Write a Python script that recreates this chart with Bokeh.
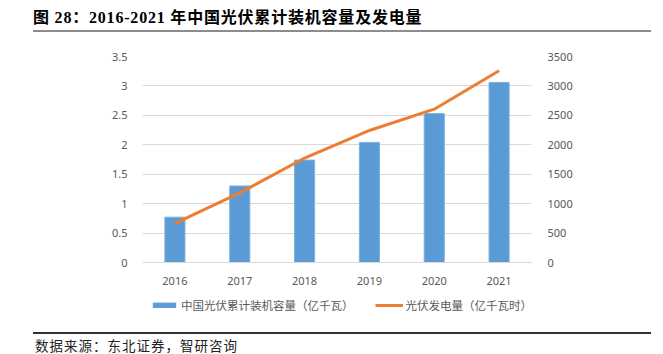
from bokeh.plotting import figure
from bokeh.layouts import column
from bokeh.models import (Range1d, FactorRange, LinearAxis, NumeralTickFormatter,
                          FixedTicker, Legend, LegendItem, Div)
from bokeh.embed import file_html
from bokeh.resources import INLINE

# ---- data ----
years = ["2016", "2017", "2018", "2019", "2020", "2021"]
capacity = [0.77, 1.30, 1.74, 2.04, 2.53, 3.06]        # 亿千瓦
generation = [665, 1182, 1775, 2243, 2605, 3259]       # 亿千瓦时
left_ticks = [0, 0.5, 1, 1.5, 2, 2.5, 3, 3.5]
right_ticks = [0, 500, 1000, 1500, 2000, 2500, 3000, 3500]
title_text = "图 28：2016-2021 年中国光伏累计装机容量及发电量"
source_text = "数据来源：东北证券，智研咨询"
cap_label = "中国光伏累计装机容量（亿千瓦）"
gen_label = "光伏发电量（亿千瓦时）"

W = 663
BAR_COLOR, LINE_COLOR = "#5b9bd5", "#ed7d31"

# ---- title ----
title_html = (
    '<div style="position:relative;width:663px;height:36px;overflow:hidden;">'
    '<span style="position:absolute;left:33px;top:8px;white-space:nowrap;'
    "font-family:'Liberation Serif','Noto Sans CJK SC',serif;font-size:16px;"
    'font-weight:bold;color:#000;line-height:20px;letter-spacing:0.8px;">'
    + title_text + '</span>'
    '<div style="position:absolute;left:33px;top:30px;width:618px;height:2px;background:#8c8c8c;"></div>'
    '</div>'
)
top = Div(text=title_html, width=W, height=36, margin=(0, 0, 0, 0))

# ---- main chart ----
p = figure(width=W, height=254, x_range=FactorRange(*years), y_range=Range1d(0, 3.5),
           output_backend="svg", toolbar_location=None,
           min_border_left=142, min_border_right=132, min_border_top=20, min_border_bottom=28)
p.outline_line_color = None
p.extra_y_ranges = {"gen": Range1d(0, 3500)}

bars = p.vbar(x=years, top=capacity, width=0.31, fill_color=BAR_COLOR, line_color="#7fb0de", line_width=1)
ln = p.line(x=years, y=generation, y_range_name="gen", line_color=LINE_COLOR, line_width=3)

p.xgrid.visible = False
p.ygrid.grid_line_color = "#d9d9d9"
p.ygrid.ticker = FixedTicker(ticks=left_ticks)

p.yaxis.ticker = FixedTicker(ticks=left_ticks)
p.yaxis.formatter = NumeralTickFormatter(format="0.[0]")

ra = LinearAxis(y_range_name="gen", ticker=FixedTicker(ticks=right_ticks),
                formatter=NumeralTickFormatter(format="0"))
p.add_layout(ra, "right")

for ax in [p.xaxis[0], p.yaxis[0], ra]:
    ax.axis_line_color = None
    ax.major_tick_line_color = None
    ax.minor_tick_line_color = None
    ax.major_label_text_font = "'Noto Sans', 'Liberation Sans'"
    ax.major_label_text_font_size = "11px"
    ax.major_label_text_color = "#595959"
p.xaxis.axis_line_color = "#d9d9d9"
p.xaxis.major_label_standoff = 8
p.yaxis[0].major_label_standoff = 9
ra.major_label_standoff = 10

# ---- legend strip (key renderers reuse the series but sit outside this strip's view) ----
lf = figure(width=W, height=28, x_range=FactorRange(*years), y_range=Range1d(10000, 10001),
            output_backend="svg", toolbar_location=None,
            min_border_left=142, min_border_right=132, min_border_top=0, min_border_bottom=0)
lf.axis.visible = False
lf.grid.visible = False
lf.outline_line_color = None
kb = lf.vbar(x=years, top=capacity, width=0.31, fill_color=BAR_COLOR, line_color=BAR_COLOR)
kl = lf.line(x=years, y=generation, line_color=LINE_COLOR, line_width=3)
legend = Legend(items=[LegendItem(label=cap_label, renderers=[kb]),
                       LegendItem(label=gen_label, renderers=[kl])],
                orientation="horizontal", location=(8, 5),
                padding=0, margin=0, spacing=21, label_standoff=3,
                glyph_width=28, glyph_height=6,
                border_line_color=None, background_fill_alpha=0,
                label_text_font="'Noto Sans CJK SC'", label_text_font_size="11.5px",
                label_text_color="#595959")
lf.add_layout(legend)

# ---- footer ----
foot_html = (
    '<div style="position:relative;width:663px;height:36px;overflow:hidden;">'
    '<div style="position:absolute;left:33px;top:14px;width:618px;height:2px;background:#333;"></div>'
    '<span style="position:absolute;left:35px;top:19px;white-space:nowrap;'
    "font-family:'Noto Sans CJK SC',sans-serif;font-size:13.5px;color:#222;"
    'line-height:16px;letter-spacing:1px;">' + source_text + '</span>'
    '</div>'
)
bot = Div(text=foot_html, width=W, height=36, margin=(0, 0, 0, 0))

layout = column(top, p, lf, bot, spacing=0)
open("out.html", "w").write(file_html(layout, INLINE))
